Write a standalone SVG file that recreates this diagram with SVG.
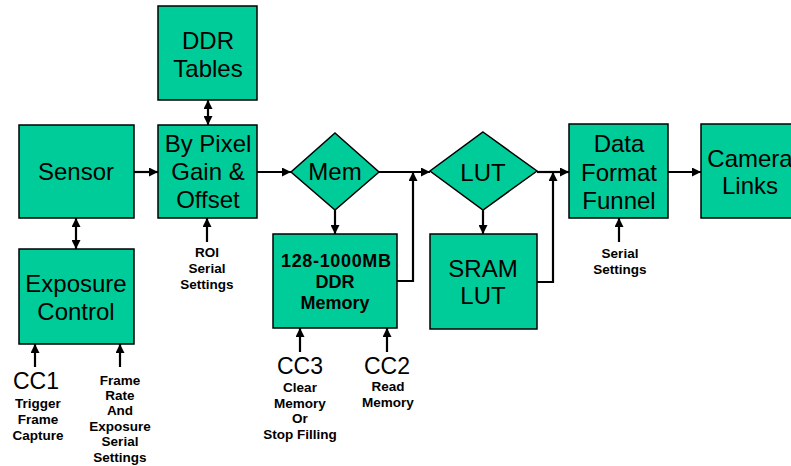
<svg xmlns="http://www.w3.org/2000/svg" width="791" height="466" viewBox="0 0 791 466">
<style>
.box{fill:#00CC99;stroke:#000;stroke-width:1.5}
.t{font-family:"Liberation Sans",Arial,sans-serif;font-size:24px;fill:#000;text-anchor:middle}
.b{font-family:"Liberation Sans",Arial,sans-serif;font-size:18px;font-weight:bold;fill:#000;text-anchor:middle}
.s{font-family:"Liberation Sans",Arial,sans-serif;font-size:13.5px;font-weight:bold;fill:#000;text-anchor:middle}
.cc{font-family:"Liberation Sans",Arial,sans-serif;font-size:23px;fill:#000;text-anchor:middle}
.c{fill:none;stroke:#000;stroke-width:2.2}
</style>
<defs>
<marker id="ah" viewBox="0 0 10 10" refX="10" refY="5" markerWidth="10" markerHeight="9" markerUnits="userSpaceOnUse" orient="auto-start-reverse">
<path d="M0,0 L10,5 L0,10 z" fill="#000"/>
</marker>
</defs>
<rect width="791" height="466" fill="#fff"/>

<g id="connectors">
<path class="c" d="M134,172 H158" marker-end="url(#ah)"/>
<path class="c" d="M257,172 H291" marker-end="url(#ah)"/>
<path class="c" d="M379,172 H430" marker-end="url(#ah)"/>
<path class="c" d="M537,172 H569" marker-end="url(#ah)"/>
<path class="c" d="M668,172 H701" marker-end="url(#ah)"/>
<path class="c" d="M208,100 V125" marker-start="url(#ah)" marker-end="url(#ah)"/>
<path class="c" d="M76,218 V249" marker-start="url(#ah)" marker-end="url(#ah)"/>
<path class="c" d="M335,210 V234" marker-end="url(#ah)"/>
<path class="c" d="M483,210 V234" marker-end="url(#ah)"/>
<path class="c" d="M397,281 H413 V172" marker-end="url(#ah)"/>
<path class="c" d="M537,282 H553 V172" marker-end="url(#ah)"/>
<path class="c" d="M207,242 V218" marker-end="url(#ah)"/>
<path class="c" d="M619,242 V218" marker-end="url(#ah)"/>
<path class="c" d="M35,367 V344" marker-end="url(#ah)"/>
<path class="c" d="M120,367 V344" marker-end="url(#ah)"/>
<path class="c" d="M300,352 V328" marker-end="url(#ah)"/>
<path class="c" d="M387,352 V328" marker-end="url(#ah)"/>
</g>

<g id="ddr-tables">
<rect class="box" x="158" y="6" width="99" height="94"/>
<text class="t" x="208" y="49">DDR</text>
<text class="t" x="208" y="77">Tables</text>
</g>
<g id="sensor">
<rect class="box" x="19" y="125" width="115" height="93"/>
<text class="t" x="76" y="180">Sensor</text>
</g>
<g id="by-pixel">
<rect class="box" x="158" y="125" width="99" height="93"/>
<text class="t" x="208" y="152">By Pixel</text>
<text class="t" x="208" y="180">Gain &amp;</text>
<text class="t" x="208" y="208">Offset</text>
</g>
<g id="mem">
<polygon class="box" points="335,133 379,172 335,210 291,172"/>
<text class="t" x="335" y="180">Mem</text>
</g>
<g id="lut">
<polygon class="box" points="483,132 537,171 483,210 430,171"/>
<text class="t" x="483" y="181">LUT</text>
</g>
<g id="funnel">
<rect class="box" x="569" y="124" width="99" height="94"/>
<text class="t" x="619" y="152">Data</text>
<text class="t" x="619" y="181">Format</text>
<text class="t" x="619" y="209">Funnel</text>
</g>
<g id="camera-links">
<rect class="box" x="701" y="124" width="99" height="94"/>
<text class="t" x="750" y="167">Camera</text>
<text class="t" x="750" y="194">Links</text>
</g>
<g id="exposure">
<rect class="box" x="19" y="249" width="115" height="95"/>
<text class="t" x="76" y="292">Exposure</text>
<text class="t" x="76" y="320">Control</text>
</g>
<g id="ddr-memory">
<rect class="box" x="273" y="234" width="124" height="94"/>
<text class="b" x="336" y="267" textLength="110" lengthAdjust="spacing">128-1000MB</text>
<text class="b" x="335" y="288">DDR</text>
<text class="b" x="335" y="309">Memory</text>
</g>
<g id="sram-lut">
<rect class="box" x="430" y="234" width="107" height="95"/>
<text class="t" x="483" y="277">SRAM</text>
<text class="t" x="483" y="304">LUT</text>
</g>

<g id="roi-label">
<text class="s" x="207" y="257">ROI</text>
<text class="s" x="207" y="273">Serial</text>
<text class="s" x="207" y="289">Settings</text>
</g>
<g id="serial-label">
<text class="s" x="620" y="258">Serial</text>
<text class="s" x="620" y="274">Settings</text>
</g>
<g id="cc1">
<text class="cc" x="36" y="389">CC1</text>
<text class="s" x="38" y="408">Trigger</text>
<text class="s" x="38" y="424">Frame</text>
<text class="s" x="38" y="440">Capture</text>
</g>
<g id="frame-rate">
<text class="s" x="120" y="385">Frame</text>
<text class="s" x="120" y="400">Rate</text>
<text class="s" x="120" y="415">And</text>
<text class="s" x="120" y="431">Exposure</text>
<text class="s" x="120" y="446">Serial</text>
<text class="s" x="120" y="462">Settings</text>
</g>
<g id="cc3">
<text class="cc" x="300" y="374">CC3</text>
<text class="s" x="300" y="392">Clear</text>
<text class="s" x="300" y="408">Memory</text>
<text class="s" x="300" y="423">Or</text>
<text class="s" x="300" y="439">Stop Filling</text>
</g>
<g id="cc2">
<text class="cc" x="387" y="374">CC2</text>
<text class="s" x="388" y="391">Read</text>
<text class="s" x="388" y="407">Memory</text>
</g>
</svg>
